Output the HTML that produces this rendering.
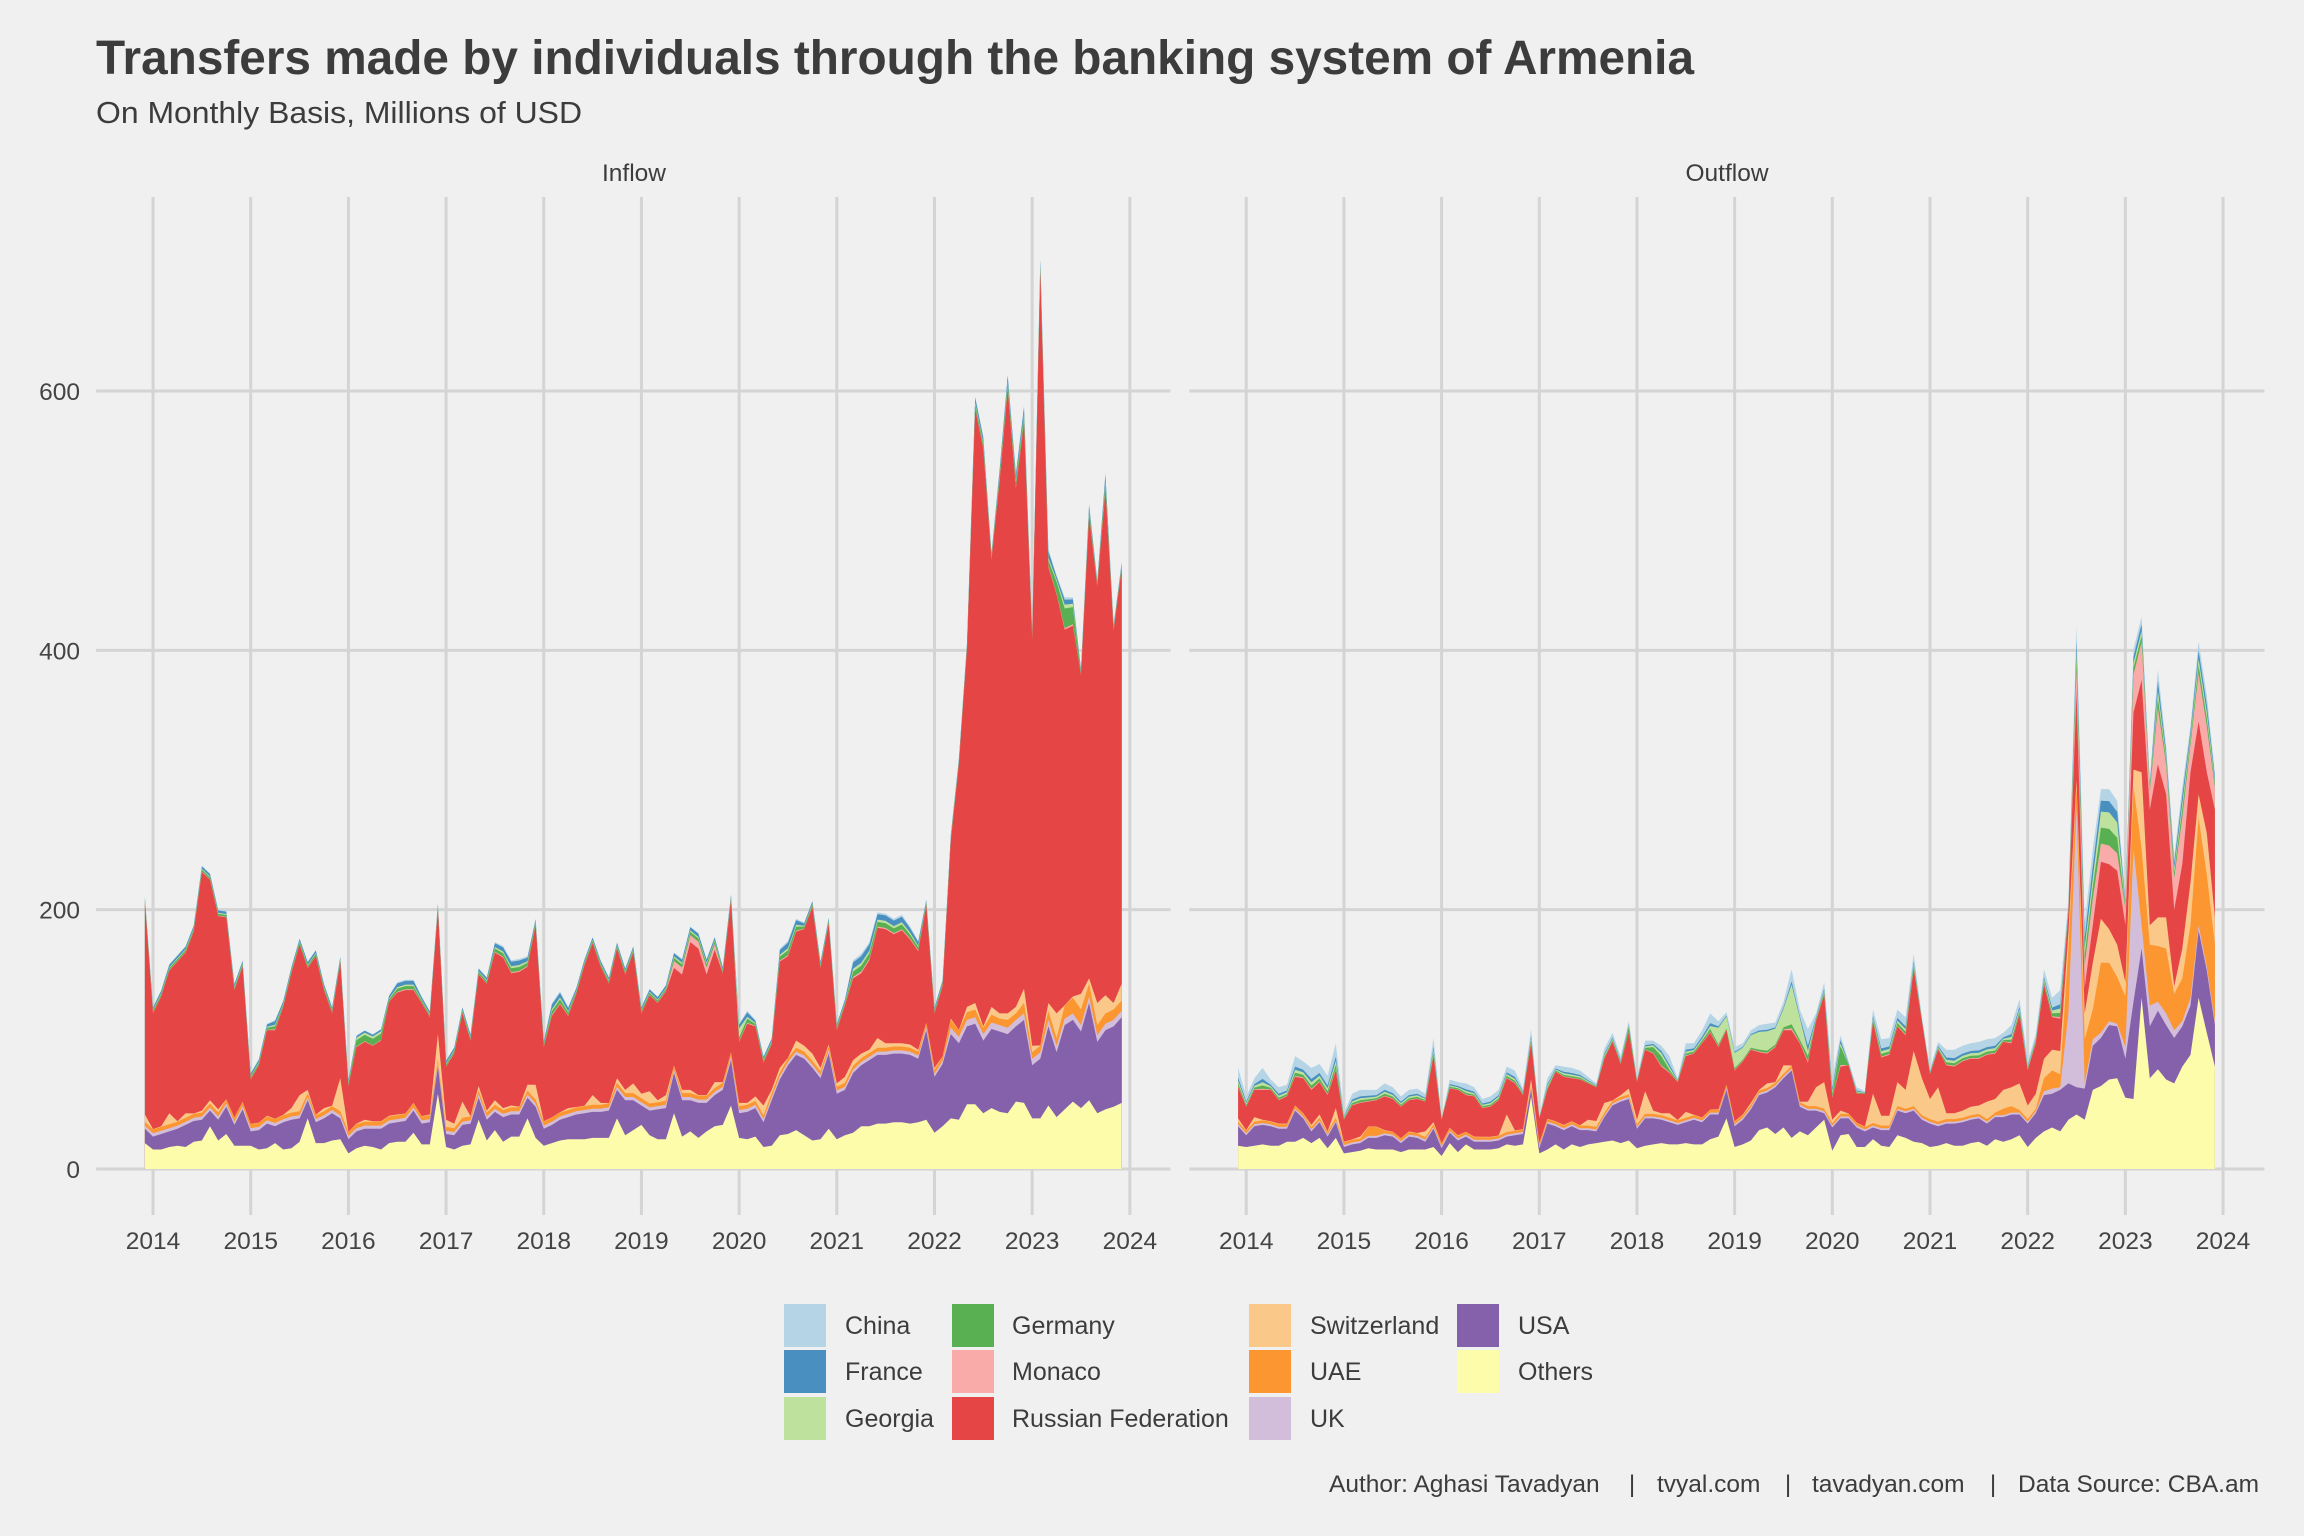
<!DOCTYPE html>
<html><head><meta charset="utf-8">
<style>
html,body{margin:0;padding:0;background:#F0F0F0;}
svg{display:block;}
text{font-family:"Liberation Sans",Arial,sans-serif;}
</style></head>
<body>
<svg id="s" width="2304" height="1536" viewBox="0 0 2304 1536" xmlns="http://www.w3.org/2000/svg">
<rect width="2304" height="1536" fill="#F0F0F0"/>
<g id="grid"></g>
<g id="areas"></g>
<g id="labels"></g>
<text x="96" y="74" font-size="48" font-weight="bold" fill="#3C3C3C" textLength="1598" lengthAdjust="spacingAndGlyphs">Transfers made by individuals through the banking system of Armenia</text>
<text x="96" y="123" font-size="31" fill="#3C3C3C" textLength="486" lengthAdjust="spacingAndGlyphs">On Monthly Basis, Millions of USD</text>
<text x="634" y="181" font-size="24.5" fill="#3C3C3C" text-anchor="middle">Inflow</text>
<text x="1727" y="181" font-size="24.5" fill="#3C3C3C" text-anchor="middle">Outflow</text>
<g font-size="24.5" fill="#444" text-anchor="end">
<text x="80" y="1178">0</text>
<text x="80" y="918.7">200</text>
<text x="80" y="659.4">400</text>
<text x="80" y="400">600</text>
</g>
<!-- legend -->
<g font-size="25" fill="#3C3C3C">
<rect x="784" y="1304" width="42" height="43" fill="#B5D5E6"/><text x="845" y="1334">China</text>
<rect x="784" y="1350" width="42" height="43" fill="#4990C0"/><text x="845" y="1380">France</text>
<rect x="784" y="1397" width="42" height="43" fill="#BEE29E"/><text x="845" y="1427">Georgia</text>
<rect x="952" y="1304" width="42" height="43" fill="#59B053"/><text x="1012" y="1334">Germany</text>
<rect x="952" y="1350" width="42" height="43" fill="#F9ABAA"/><text x="1012" y="1380">Monaco</text>
<rect x="952" y="1397" width="42" height="43" fill="#E64546"/><text x="1012" y="1427">Russian Federation</text>
<rect x="1249" y="1304" width="42" height="43" fill="#FAC989"/><text x="1310" y="1334">Switzerland</text>
<rect x="1249" y="1350" width="42" height="43" fill="#FC9630"/><text x="1310" y="1380">UAE</text>
<rect x="1249" y="1397" width="42" height="43" fill="#D2BEDB"/><text x="1310" y="1427">UK</text>
<rect x="1457" y="1304" width="42" height="43" fill="#8561AB"/><text x="1518" y="1334">USA</text>
<rect x="1457" y="1350" width="42" height="43" fill="#FCFCAA"/><text x="1518" y="1380">Others</text>
</g>
<!-- caption -->
<g font-size="24.5" fill="#3C3C3C">
<text x="1329" y="1492">Author: Aghasi Tavadyan</text>
<text x="1632" y="1492" text-anchor="middle">|</text>
<text x="1657" y="1492">tvyal.com</text>
<text x="1788" y="1492" text-anchor="middle">|</text>
<text x="1812" y="1492">tavadyan.com</text>
<text x="1993" y="1492" text-anchor="middle">|</text>
<text x="2018" y="1492">Data Source: CBA.am</text>
</g>
</svg>
<script>
(function(){
const NS="http://www.w3.org/2000/svg";
function Y(v){return 1169-1.2967*v;}
function el(tag,attrs,parent){const e=document.createElementNS(NS,tag);for(const k in attrs)e.setAttribute(k,attrs[k]);parent.appendChild(e);return e;}
const grid=document.getElementById('grid');
const areas=document.getElementById('areas');
const labels=document.getElementById('labels');
const panels=[{x0:96.1,x1:1170.5,d0:144.9},{x0:1189.3,x1:2264.5,d0:1238.1}];
panels.forEach(p=>{
  [0,200,400,600].forEach(v=>el('line',{x1:p.x0,x2:p.x1,y1:Y(v),y2:Y(v),stroke:'#D4D4D4','stroke-width':3},grid));
  for(let k=0;k<=10;k++){
    const x=p.d0+8.14+97.68*k;
    el('line',{x1:x,x2:x,y1:197,y2:1215,stroke:'#D4D4D4','stroke-width':3},grid);
    const t=el('text',{x:x,y:1249,'text-anchor':'middle','font-size':24.5,fill:'#444'},labels);
    t.textContent=String(2014+k);
  }
});

// ---------- INFLOW ----------
const IT=[210,125,138,158,165,172,188,234,228,200,
199,143,161,74,85,112,115,130,156,178,
160,169,143,125,164,69,103,107,104,108,
134,144,146,146,133,122,205,84,94,125,
104,155,148,175,172,161,162,164,193,99,
128,137,125,140,162,179,161,148,175,155,
172,125,139,133,142,167,162,187,182,162,
179,156,212,112,122,115,87,101,170,176,
193,190,207,160,194,112,131,161,166,175,
198,197,193,196,187,176,208,125,146,258,
317,406,596,565,475,540,613,537,589,413,
702,478,458,441,441,386,513,454,537,420,468];
const IS=[42,30,33,43,35,43,42,45,53,46,
53,38,50,31,34,41,37,40,47,57,
61,40,47,45,70,25,35,38,36,36,
41,42,42,51,40,42,104,38,35,52,
39,64,45,53,47,49,48,65,65,36,
38,43,47,47,48,57,51,49,70,61,
66,58,60,53,57,76,61,61,57,57,
67,67,90,51,51,56,49,61,78,85,
99,95,89,78,96,66,71,84,89,92,
101,97,97,97,96,92,111,78,84,116,
104,125,128,110,125,120,120,125,139,95,
93,128,120,125,133,135,147,128,134,128,143];
const IU=[31,25,27,29,31,34,37,38,45,38,
48,34,46,29,30,35,33,36,38,39,
53,36,39,43,39,23,29,31,31,31,
35,36,37,45,35,36,79,27,26,34,
35,55,38,44,40,42,42,55,48,31,
34,38,40,42,43,44,44,45,61,53,
53,49,45,46,47,74,53,53,51,51,
57,61,84,43,44,47,36,53,69,80,
88,85,78,70,89,58,61,74,80,84,
88,88,89,89,88,85,107,71,81,104,
97,110,112,99,108,106,104,110,115,80,
85,110,90,111,115,106,128,98,107,110,117];
const IO=[20,15,15,17,18,17,21,22,33,22,
27,18,18,18,15,16,20,15,16,21,
39,20,20,22,23,12,16,18,17,15,
20,21,21,28,19,19,58,17,15,18,
19,38,22,30,21,25,25,39,24,18,
20,22,23,23,23,24,24,24,39,26,
30,34,26,23,23,43,25,29,24,29,
33,34,49,24,23,25,17,18,26,27,
30,26,22,23,31,23,26,28,33,33,
35,35,36,36,35,36,38,28,33,39,
38,50,50,43,47,44,43,52,51,39,
39,49,40,46,52,47,53,43,46,48,51];
const gI={16:8,26:9,27:9,28:9,29:9,31:8,32:8,33:8,43:8,44:9,45:10,46:10,47:8,50:10,51:10,52:7,65:12,66:12,67:12,68:12,69:12,70:10,73:14,74:10,78:10,79:12,80:10,87:14,88:15,89:14,90:12,91:12,92:12,93:12,94:10,95:8,102:10,103:10,105:10,106:12,107:12,108:14,110:10,111:14,112:15,113:25,114:22,116:10,118:14};
const uaeI={99:6,100:5,101:6,102:6,103:5,104:6,105:5,106:6,107:5,108:8,109:5,110:5,111:7,112:6,113:10,114:12,115:12,116:10,117:8,118:8,119:8,120:8};
function fI(i){
  if(i>=65&&i<=70) return [0.45,0.2,0.1,0.2,0.05];
  if(i>=112&&i<=114) return [0.05,0.6,0.12,0.15,0.08];
  if(i===73) return [0.05,0.2,0.5,0.2,0.05];
  if(i>=26&&i<=29) return [0.05,0.55,0.2,0.15,0.05];
  return [0.08,0.3,0.15,0.35,0.12];
}
const inflow={T:IT,S:IS,U:IU,O:IO,
  g:i=>(gI[i]!==undefined?gI[i]:5),
  uk:i=>(i>=99?5:2.5),
  uae:i=>(uaeI[i]!==undefined?uaeI[i]:3),
  f:fI};

// ---------- OUTFLOW ----------
const OT=[78,56,70,78,69,63,65,87,83,78,
81,72,97,43,58,61,61,61,66,63,
56,61,62,58,101,39,69,67,66,63,
54,56,61,79,76,62,108,40,70,80,
79,78,76,71,66,93,105,87,114,70,
99,99,95,87,70,97,97,107,120,114,
121,94,97,107,111,112,113,129,154,123,
108,120,144,70,103,83,63,60,123,100,
101,123,117,166,117,77,98,92,92,95,
97,98,100,101,105,111,131,83,104,154,
132,138,207,419,190,247,293,293,284,209,
401,426,300,385,327,241,295,342,407,365,306];
const OR=[63,48,61,61,61,53,56,71,70,61,
67,57,76,38,49,51,52,53,56,54,
48,53,54,52,87,38,62,61,57,56,
47,48,53,70,66,57,97,39,61,75,
71,70,69,66,63,85,98,81,105,67,
92,89,79,74,67,87,89,97,105,94,
107,76,83,92,90,89,94,107,107,97,
82,114,134,55,79,80,58,58,113,86,
88,110,103,154,114,73,92,80,79,83,
85,85,88,89,98,97,119,76,97,142,
117,116,197,368,140,188,237,235,230,188,
352,377,277,312,289,200,235,306,345,306,277];
const OS=[39,30,40,38,36,35,35,49,43,34,
42,29,47,21,22,25,30,31,30,28,
22,29,26,29,36,17,29,26,28,25,
24,24,24,42,28,29,69,20,38,35,
34,36,33,38,37,51,52,57,62,38,
60,45,43,43,35,44,40,38,45,46,
65,34,42,51,61,66,67,80,79,49,
52,63,67,38,45,42,33,32,58,41,
41,67,61,91,70,54,63,43,43,45,
48,49,52,54,61,63,66,49,58,85,
92,91,182,300,120,159,193,185,173,144,
308,306,188,194,194,141,170,221,289,259,194];
const OU=[33,26,33,34,33,31,31,45,39,29,
36,25,36,17,19,20,24,24,26,25,
20,25,24,21,31,16,28,22,25,21,
21,21,22,25,26,27,61,16,35,33,
30,33,30,30,29,40,49,52,54,31,
39,39,38,36,34,36,38,36,42,42,
61,33,38,46,57,59,63,70,76,48,
45,45,43,32,39,39,32,29,32,30,
30,45,43,45,38,35,33,35,35,36,
38,39,35,40,40,42,42,35,43,57,
58,61,66,63,62,95,101,111,110,85,
129,170,110,122,111,101,110,126,184,153,111];
const OO=[18,17,18,19,18,18,21,21,24,20,
24,16,24,12,13,14,16,15,15,15,
13,15,15,15,17,10,20,13,19,15,
15,15,16,19,18,19,56,12,15,19,
15,19,17,19,20,21,22,20,22,16,
18,19,20,19,19,20,19,19,23,25,
39,17,19,22,30,32,27,32,24,29,
26,32,38,14,26,27,17,17,23,18,
17,26,24,21,20,17,18,20,18,18,
20,21,18,23,21,23,26,17,24,29,
32,29,38,42,38,61,64,69,70,55,
54,132,70,77,69,66,79,88,132,105,79];
const ukO={99:60,100:62,101:63,102:120,103:278,104:66,105:100,106:105,107:114,108:112,109:94,110:247,111:188,112:126,113:129,114:120,115:107,116:114,117:132,118:188,119:156,120:114};
const uaeO={99:70,100:76,101:73,102:170,103:295,104:100,105:123,106:159,107:159,108:148,109:133,110:295,111:247,112:173,113:172,114:170,115:135,116:147,117:188,118:271,119:227,120:173};
const uaeOd={16:7,17:7,94:5,95:5};
function fO(i){
  if(i>=59&&i<=69) return [0.03,0.07,0.65,0.05,0.2];
  if(i===74) return [0.05,0.6,0.1,0.1,0.15];
  if(i===48||i===51||i===52) return [0.05,0.45,0.15,0.1,0.25];
  if(i>=103&&i<=105) return [0.35,0.15,0.12,0.15,0.23];
  if(i>=106&&i<=108) return [0.25,0.22,0.22,0.15,0.16];
  if(i>=109) return [0.6,0.1,0.08,0.1,0.12];
  return [0.05,0.15,0.15,0.15,0.5];
}
const outflow={T:OT,R:OR,S:OS,U:OU,O:OO,ukO:ukO,uaeO:uaeO,
  uk:i=>1.5,
  uae:i=>(uaeOd[i]!==undefined?uaeOd[i]:2),
  f:fO};

const colors=['#FCFCAA','#8561AB','#D2BEDB','#FC9630','#FAC989','#E64546','#F9ABAA','#59B053','#BEE29E','#4990C0','#B5D5E6'];
function build(p,D){
  const n=D.T.length;const cums=[];
  for(let i=0;i<n;i++){
    const c1=D.O[i];
    const c2=Math.max(c1,D.U[i]);
    const c3=(D.ukO&&D.ukO[i]!==undefined)?Math.max(c2,D.ukO[i]):c2+D.uk(i);
    const c4=(D.uaeO&&D.uaeO[i]!==undefined)?Math.max(c3,D.uaeO[i]):c3+D.uae(i);
    const c5=Math.max(c4+0.3,D.S[i]);
    let c6=D.R?D.R[i]:D.T[i]-D.g(i);
    c6=Math.max(c5,c6);
    const T=Math.max(c6,D.T[i]);
    const gap=T-c6;const f=D.f(i);
    const c7=c6+gap*f[0],c8=c7+gap*f[1],c9=c8+gap*f[2],c10=c9+gap*f[3];
    cums.push([c1,c2,c3,c4,c5,c6,c7,c8,c9,c10,T]);
  }
  const X=i=>p.d0+8.14*i;
  for(let k=10;k>=0;k--){
    let d='M'+X(0).toFixed(1)+','+Y(0).toFixed(1);
    for(let i=0;i<n;i++) d+='L'+X(i).toFixed(1)+','+Y(cums[i][k]).toFixed(1);
    d+='L'+X(n-1).toFixed(1)+','+Y(0).toFixed(1)+'Z';
    el('path',{d:d,fill:colors[k]},areas);
  }
}
build(panels[0],inflow);
build(panels[1],outflow);
})();
</script>
</body></html>
